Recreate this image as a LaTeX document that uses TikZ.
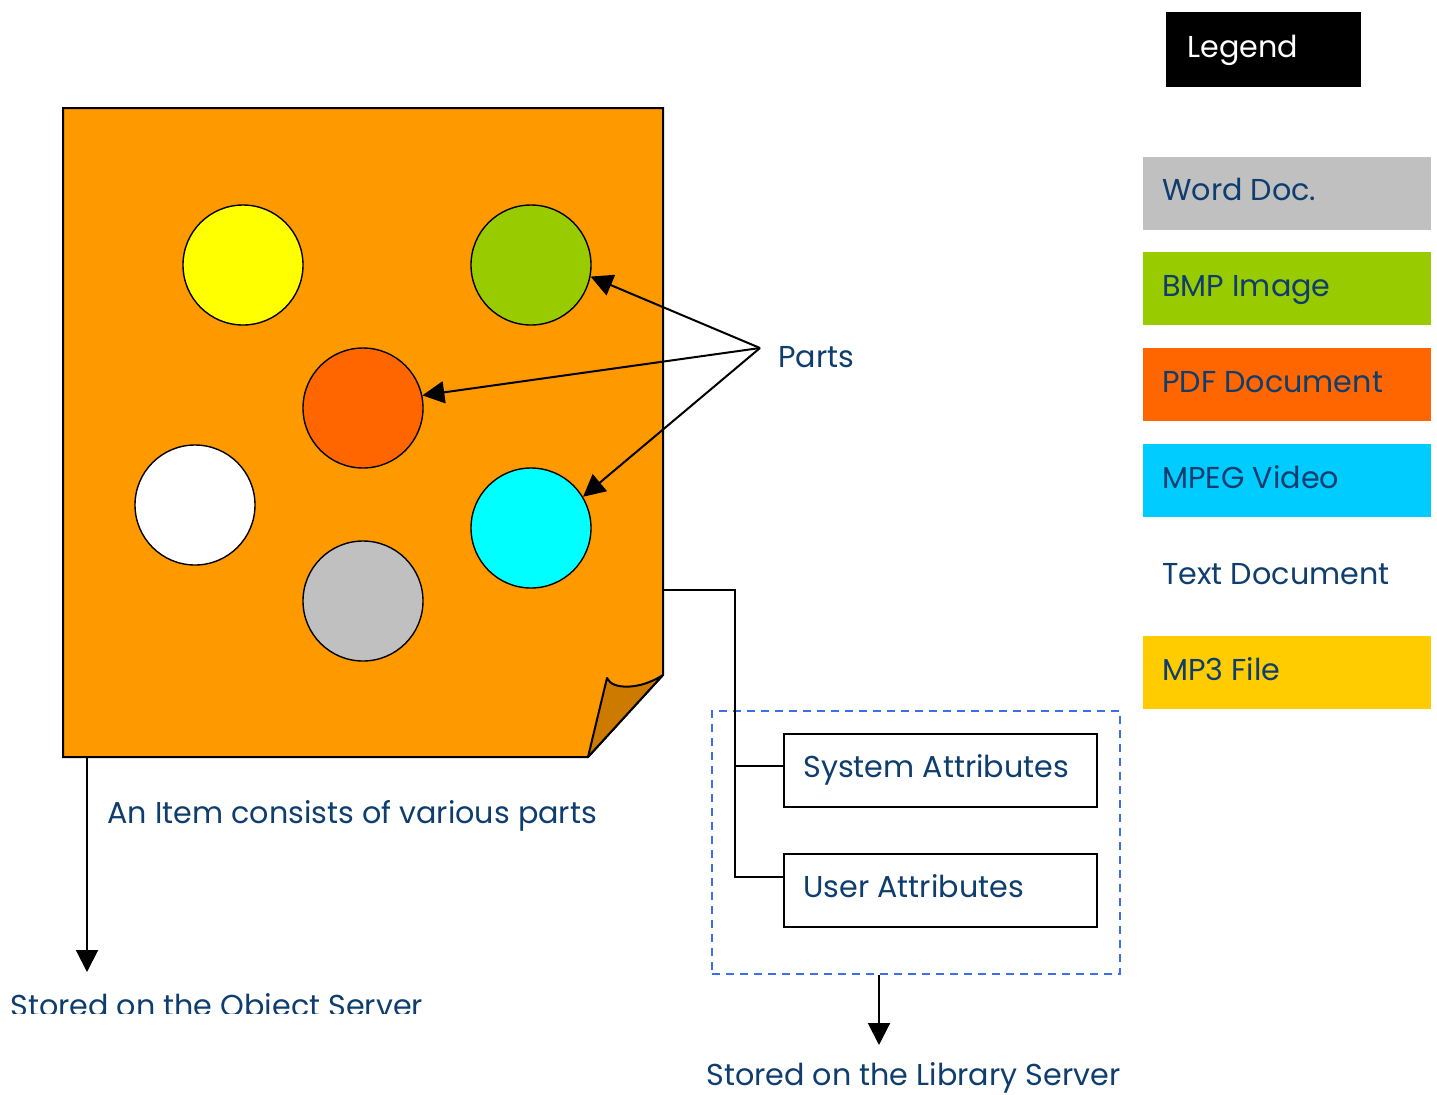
\documentclass[tikz,border=0pt]{standalone}
\usepackage{fontspec}
\setmainfont{Poppins}
\usetikzlibrary{arrows.meta}
\definecolor{txt}{HTML}{0E3D6E}
\definecolor{paper}{HTML}{FF9900}
\definecolor{flap}{HTML}{CC7A00}
\definecolor{dashblue}{HTML}{3B6EE8}
\definecolor{cyellow}{RGB}{255,255,0}
\definecolor{cgreen}{RGB}{153,204,0}
\definecolor{cred}{RGB}{255,102,0}
\definecolor{ccyan}{RGB}{0,255,255}
\definecolor{cgray}{RGB}{192,192,192}
\definecolor{lblue}{RGB}{0,204,255}
\definecolor{lgold}{RGB}{255,204,0}
\begin{document}
\begin{tikzpicture}[x=0.5pt,y=-0.5pt,
  lbl/.style={font=\fontsize{15.1}{18}\selectfont, text=txt, inner sep=0pt, anchor=base west},
  part/.style={circle, draw=black, line width=0.7pt, minimum size=60pt, inner sep=0pt},
  legitem/.style={minimum width=144pt, minimum height=36.5pt, inner sep=0pt, anchor=north west},
  attr/.style={draw=black, line width=1pt, minimum width=156.5pt, minimum height=36.5pt, inner sep=0pt, anchor=north west},
  conn/.style={line width=1pt, draw=black},
  tip/.style={-{Triangle[length=11pt,width=11pt]}}
]
\useasboundingbox (0,0) rectangle (1437,1094);
% paper
\draw[fill=paper, line width=1pt, line join=miter] (63,108) -- (663,108) -- (663,675) -- (588,757) -- (63,757) -- cycle;
\draw[fill=flap, line width=1pt, line join=round] (663,675) -- (588,757) -- (607,678) .. controls (612,690) and (640,690) .. (663,675) -- cycle;
% circles
\node[part, fill=cyellow] (c1) at (243,265) {};
\node[part, fill=cgreen] (c2) at (531,265) {};
\node[part, fill=cred] (c3) at (363,408) {};
\node[part, fill=white] (c4) at (195,505) {};
\node[part, fill=ccyan] (c5) at (531,528) {};
\node[part, fill=cgray] (c6) at (363,601) {};
% parts label
\node[lbl] (parts) at (778,367) {Parts};
\coordinate (pt) at (760,348);
\draw[conn, tip] (pt) -- (c2.-11);
\draw[conn, tip] (pt) -- (c3.12);
\draw[conn, tip] (pt) -- (c5.31);
% item label
\node[lbl] (item) at (107,823) {An Item consists of various parts};
% object server
\coordinate (ps) at (87,757);
\coordinate (objtip) at (87,972);
\draw[conn, tip] (ps) -- (objtip);
\begin{scope}
\clip (0,940) rectangle (500,1013);
\node[lbl] (obj) at (10,1016) {Stored on the Object Server};
\end{scope}
% attributes
\node[draw=dashblue, dashed, dash pattern=on 4pt off 3pt, line width=0.8pt, minimum width=204pt, minimum height=131.5pt, inner sep=0pt, anchor=north west] (grp) at (711,710) {};
\node[attr] (sys) at (783,733) {};
\node[lbl] at (803,777) {System Attributes};
\node[attr] (usr) at (783,853) {};
\node[lbl] at (803,897) {User Attributes};
\coordinate (pr) at (663,590);
\coordinate (bend) at (735,590);
\coordinate (sysj) at (735,766);
\coordinate (usrj) at (735,877);
\draw[conn] (pr) -- (bend) -- (usrj) -- (usrj -| usr.west);
\draw[conn] (sysj) -- (sysj -| sys.west);
\coordinate (libtip) at (879,1045);
\draw[conn, tip] (libtip |- grp.south) -- (libtip);
\node[lbl] (lib) at (706,1085) {Stored on the Library Server};
% legend
\node[fill=black, minimum width=97.5pt, minimum height=37.5pt, inner sep=0pt, anchor=north west] (leg) at (1166,12) {};
\node[lbl, text=white] at (1187,57) {Legend};
\node[legitem, fill=cgray] (l1) at (1143,157) {};
\node[lbl] at (1162,200) {Word Doc.};
\node[legitem, fill=cgreen] (l2) at (1143,252) {};
\node[lbl] at (1162,296) {BMP Image};
\node[legitem, fill=cred] (l3) at (1143,348) {};
\node[lbl] at (1162,392) {PDF Document};
\node[legitem, fill=lblue] (l4) at (1143,444) {};
\node[lbl] at (1162,488) {MPEG Video};
\node[legitem] (l5) at (1143,540) {};
\node[lbl] at (1162,584) {Text Document};
\node[legitem, fill=lgold] (l6) at (1143,636) {};
\node[lbl] at (1162,680) {MP3 File};
\end{tikzpicture}
\end{document}
